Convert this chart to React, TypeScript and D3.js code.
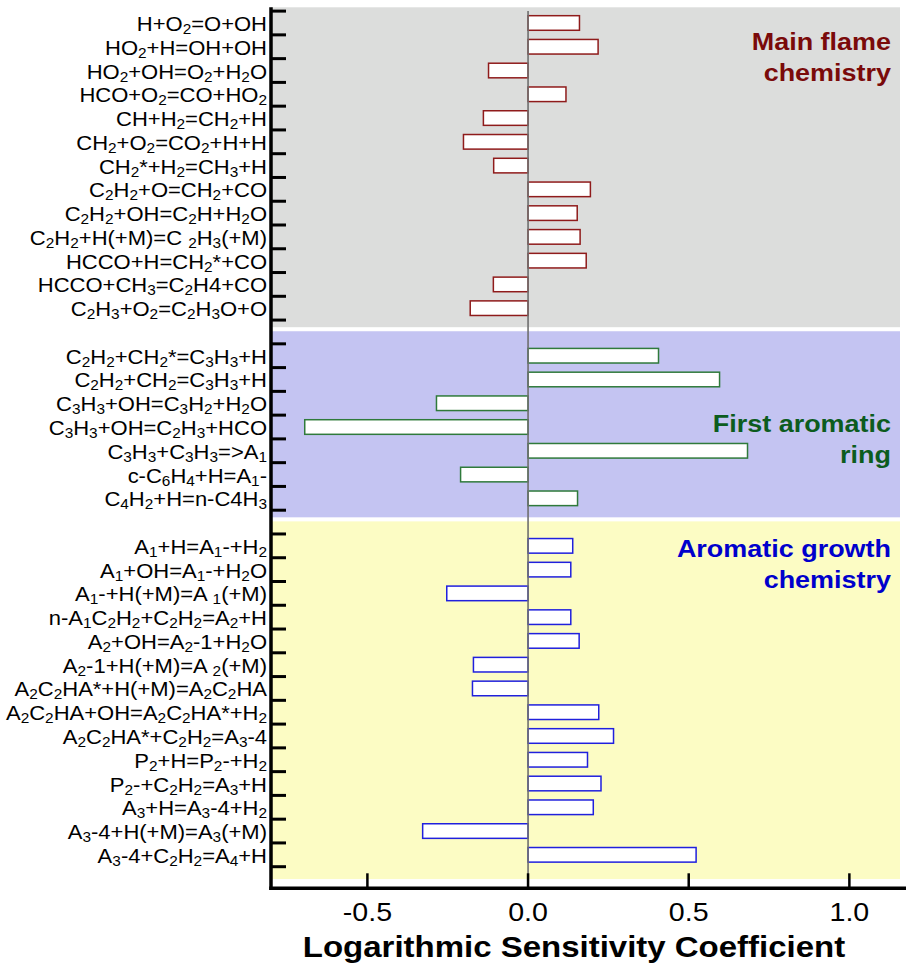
import React from 'react';
import * as d3 from 'd3';

// reaction labels: "_x" marks a subscript character
const flameReactions = [
  'H+O_2=O+OH',
  'HO_2+H=OH+OH',
  'HO_2+OH=O_2+H_2O',
  'HCO+O_2=CO+HO_2',
  'CH+H_2=CH_2+H',
  'CH_2+O_2=CO_2+H+H',
  'CH_2*+H_2=CH_3+H',
  'C_2H_2+O=CH_2+CO',
  'C_2H_2+OH=C_2H+H_2O',
  'C_2H_2+H(+M)=C _2H_3(+M)',
  'HCCO+H=CH_2*+CO',
  'HCCO+CH_3=C_2H4+CO',
  'C_2H_3+O_2=C_2H_3O+O',
];
const flameValues = [0.16, 0.218, -0.123, 0.118, -0.139, -0.201, -0.107, 0.194, 0.153, 0.162, 0.181, -0.108, -0.18];

const ringReactions = [
  'C_2H_2+CH_2*=C_3H_3+H',
  'C_2H_2+CH_2=C_3H_3+H',
  'C_3H_3+OH=C_3H_2+H_2O',
  'C_3H_3+OH=C_2H_3+HCO',
  'C_3H_3+C_3H_3=>A_1',
  'c-C_6H_4+H=A_1-',
  'C_4H_2+H=n-C4H_3',
];
const ringValues = [0.406, 0.596, -0.285, -0.695, 0.683, -0.21, 0.154];

const growthReactions = [
  'A_1+H=A_1-+H_2',
  'A_1+OH=A_1-+H_2O',
  'A_1-+H(+M)=A _1(+M)',
  'n-A_1C_2H_2+C_2H_2=A_2+H',
  'A_2+OH=A_2-1+H_2O',
  'A_2-1+H(+M)=A _2(+M)',
  'A_2C_2HA*+H(+M)=A_2C_2HA',
  'A_2C_2HA+OH=A_2C_2HA*+H_2',
  'A_2C_2HA*+C_2H_2=A_3-4',
  'P_2+H=P_2-+H_2',
  'P_2-+C_2H_2=A_3+H',
  'A_3+H=A_3-4+H_2',
  'A_3-4+H(+M)=A_3(+M)',
  'A_3-4+C_2H_2=A_4+H',
];
const growthValues = [0.139, 0.133, -0.253, 0.133, 0.159, -0.17, -0.173, 0.22, 0.266, 0.185, 0.227, 0.203, -0.328, 0.523];

const groupTitles = [
  ['Main flame', 'chemistry'],
  ['First aromatic', 'ring'],
  ['Aromatic growth', 'chemistry'],
];
const xTicks = [-0.5, 0.0, 0.5, 1.0];
const xTitle = 'Logarithmic Sensitivity Coefficient';

// styling per group
const groupStyles = [
  { bg: '#dcdddc', stroke: '#8f1b1b', text: '#7a0a0a', labelSlot: 1.64 },
  { bg: '#c4c4f2', stroke: '#2f7a3b', text: '#0c5c1e', labelSlot: 17.7 },
  { bg: '#fcfcc4', stroke: '#2020dd', text: '#0000cc', labelSlot: 22.97 },
];

const W = 906;
const H = 966;
const FONT = '"Liberation Sans", Arial, sans-serif';
const SX = 1.1;

const parseLabel = (s: string) => {
  const parts: { t: string; sub: boolean }[] = [];
  for (let i = 0; i < s.length; i++) {
    if (s[i] === '_' && i + 1 < s.length) {
      parts.push({ t: s[i + 1], sub: true });
      i++;
    } else {
      const last = parts[parts.length - 1];
      if (last && !last.sub) last.t += s[i];
      else parts.push({ t: s[i], sub: false });
    }
  }
  return parts;
};

const Label = ({ text, x, y }: { text: string; x: number; y: number }) => {
  const parts = parseLabel(text);
  let offset = 0;
  return (
    <text transform={`translate(${x},${y}) scale(${SX},1)`} textAnchor="end" fontFamily={FONT} fontSize={20} fill="#000">
      {parts.map((p, i) => {
        const target = p.sub ? 3 : 0;
        const dy = target - offset;
        offset = target;
        return (
          <tspan key={i} dy={dy} fontSize={p.sub ? 14 : 20}>
            {p.t}
          </tspan>
        );
      })}
    </text>
  );
};

const App = () => {
  const groups = [
    { names: flameReactions, values: flameValues },
    { names: ringReactions, values: ringValues },
    { names: growthReactions, values: growthValues },
  ];

  // one slot per reaction plus one empty slot between groups
  const rows: { name: string; value: number; slot: number; g: number }[] = [];
  const spans: { first: number; last: number }[] = [];
  let slot = 0;
  groups.forEach((grp, gi) => {
    const first = slot;
    grp.names.forEach((name, i) => {
      rows.push({ name, value: grp.values[i], slot, g: gi });
      slot++;
    });
    spans.push({ first, last: slot - 1 });
    slot++;
  });
  const nTicks = slot - 1; // boundaries 0..36

  const x = d3.scaleLinear().domain([-0.8, 1.17]).range([271, 904]);
  const y = d3.scaleLinear().domain([0, nTicks]).range([11.1, 866.7]);
  const step = y(1) - y(0);
  const barH = 14.6;

  const plotTop = 7.3;
  const axisY = 888.3;
  const bgRight = 900;

  return (
    <svg width={W} height={H} style={{ position: 'absolute', left: 0, top: 0, display: 'block', background: '#fff' }}>
      {/* group backgrounds */}
      {spans.map((s, gi) => {
        const top = gi === 0 ? plotTop : y(s.first - 0.53);
        const bottom = gi === spans.length - 1 ? y(s.last + 1.52) : y(s.last + 1.3);
        return <rect key={gi} x={x(-0.8)} y={top} width={bgRight - x(-0.8)} height={bottom - top} fill={groupStyles[gi].bg} />;
      })}

      {/* bars */}
      {rows.map((r, i) => (
        <rect
          key={i}
          x={Math.min(x(0), x(r.value))}
          y={y(r.slot) + (step - barH) / 2}
          width={Math.abs(x(r.value) - x(0))}
          height={barH}
          fill="#fff"
          stroke={groupStyles[r.g].stroke}
          strokeWidth={1.5}
        />
      ))}

      {/* zero line */}
      <line x1={x(0)} x2={x(0)} y1={11} y2={axisY} stroke="#6e6e6e" strokeWidth={1.6} />

      {/* group titles */}
      {groupTitles.map((lines, gi) => (
        <text
          key={gi}
          transform={`translate(891,${y(groupStyles[gi].labelSlot)}) scale(${SX},1)`}
          textAnchor="end"
          fontFamily={FONT}
          fontWeight="bold"
          fontSize={24.5}
          fill={groupStyles[gi].text}
        >
          {lines.map((l, li) => (
            <tspan key={li} x={0} y={li * 31}>
              {l}
            </tspan>
          ))}
        </text>
      ))}

      {/* y axis */}
      <line x1={271} x2={271} y1={plotTop} y2={axisY + 1.7} stroke="#000" strokeWidth={3.5} />
      {d3.range(nTicks + 1).map((t) => (
        <line key={t} x1={271} x2={286} y1={y(t)} y2={y(t)} stroke="#000" strokeWidth={3} />
      ))}
      {rows.map((r, i) => (
        <Label key={i} text={r.name} x={267} y={y(r.slot) + step / 2 + 8} />
      ))}

      {/* x axis */}
      <line x1={269.3} x2={W} y1={axisY} y2={axisY} stroke="#000" strokeWidth={3.5} />
      {xTicks.map((t) => (
        <g key={t}>
          <line x1={x(t)} x2={x(t)} y1={axisY - 15} y2={axisY} stroke="#000" strokeWidth={2.5} />
          <text
            transform={`translate(${x(t)},921) scale(${SX},1)`}
            textAnchor="middle"
            fontFamily={FONT}
            fontSize={26}
            fill="#000"
          >
            {t.toFixed(1)}
          </text>
        </g>
      ))}
      <text transform={`translate(574,957) scale(${SX},1)`} textAnchor="middle" fontFamily={FONT} fontWeight="bold" fontSize={30} fill="#000">
        {xTitle}
      </text>
    </svg>
  );
};

export default App;
